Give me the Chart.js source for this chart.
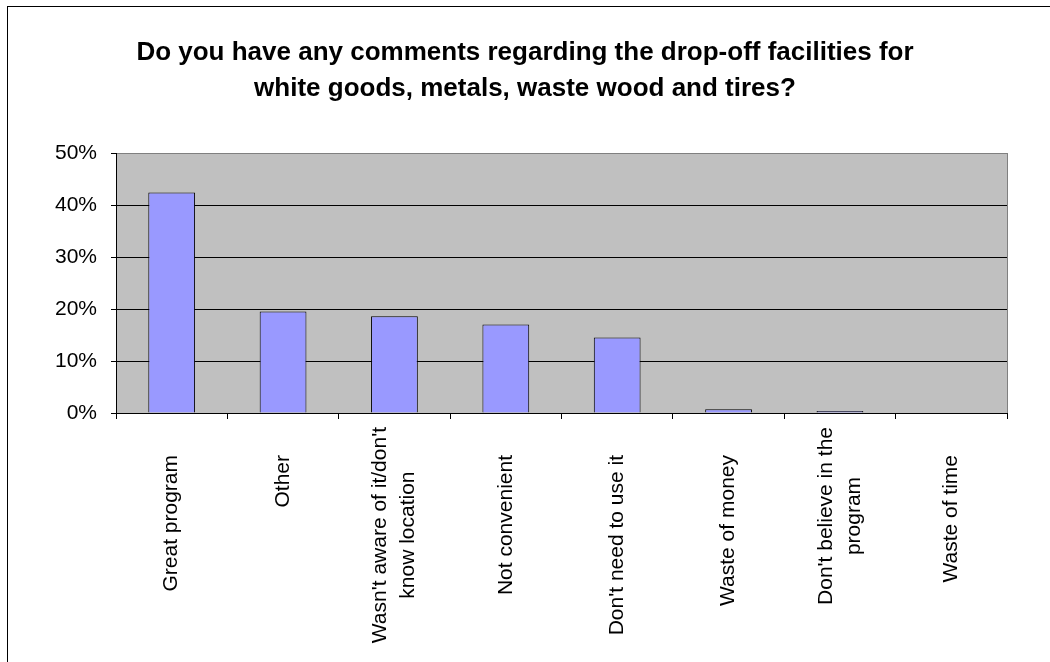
<!DOCTYPE html>
<html>
<head>
<meta charset="utf-8">
<title>Drop-off facilities comments</title>
<script src="https://cdn.jsdelivr.net/npm/chart.js@4.4.1/dist/chart.umd.min.js"></script>
<style>
    body { margin: 0; background: #fff; }
    #wrap { position: relative; width: 1050px; height: 662px; overflow: hidden; }
    #frame { position: absolute; left: 7px; top: 6px; width: 1100px; height: 700px;
             border-left: 1px solid #000; border-top: 1px solid #000; pointer-events: none; }
</style>
</head>
<body>
<div id="wrap">
    <canvas id="commentsChart"></canvas>
    <div id="frame"></div>
</div>
<script>
const categories = [
    'Great program',
    'Other',
    ["Wasn't aware of it/don't", 'know location'],
    'Not convenient',
    "Don't need to use it",
    'Waste of money',
    ["Don't believe in the", 'program'],
    'Waste of time'
];
const percentages = [42.4, 19.5, 18.6, 17.0, 14.5, 0.7, 0.4, 0];
const yTicks = [0, 10, 20, 30, 40, 50];
const titleLines = [
    'Do you have any comments regarding the drop-off facilities for',
    'white goods, metals, waste wood and tires?'
];

const fontFamily = "'Liberation Sans', Arial, sans-serif";

// grey plot area + grey right edge, like the old Excel look
const plotArea = {
    id: 'plotArea',
    beforeDraw(chart) {
        const { ctx, chartArea: a } = chart;
        ctx.save();
        ctx.fillStyle = '#C0C0C0';
        ctx.fillRect(a.left, a.top, a.right - a.left, a.bottom - a.top);
        ctx.restore();
    },
    afterDraw(chart) {
        const { ctx, chartArea: a } = chart;
        ctx.save();
        ctx.strokeStyle = '#808080';
        ctx.lineWidth = 1;
        ctx.beginPath();
        ctx.moveTo(a.right + 0.5, a.top);
        ctx.lineTo(a.right + 0.5, a.bottom);
        ctx.stroke();
        ctx.restore();
    }
};

// wrapped category labels: centre the block on the tick, centre the lines on each other,
// and start them a line higher so the long line fits
const centerWrapped = {
    id: 'centerWrapped',
    beforeDraw(chart) {
        const scale = chart.scales.x;
        const items = scale.getLabelItems(chart.chartArea);
        const ctx = chart.ctx;
        items.forEach(item => {
            if (item._centered || !Array.isArray(item.label)) return;
            ctx.save();
            ctx.font = item.font.string;
            const widest = Math.max(...item.label.map(l => ctx.measureText(l).width));
            ctx.restore();
            const lh = item.font.lineHeight;
            const t = item.options.translation;
            item.options.translation = [t[0] - (item.label.length - 1) * lh / 2, t[1] + widest / 2 - lh];
            item.options.textAlign = 'center';
            item._centered = true;
        });
    }
};

new Chart(document.getElementById('commentsChart'), {
    type: 'bar',
    data: {
        labels: categories,
        datasets: [{
            data: percentages,
            backgroundColor: '#9999FF',
            borderColor: '#000000',
            borderWidth: 1,
            categoryPercentage: 1,
            barPercentage: 0.42
        }]
    },
    options: {
        responsive: true,
        maintainAspectRatio: false,
        animation: false,
        layout: { padding: 0 },
        plugins: {
            legend: { display: false },
            tooltip: { enabled: false },
            title: {
                display: true,
                text: titleLines,
                color: '#000',
                font: { family: fontFamily, size: 26, weight: 'bold', lineHeight: 1.385 },
                padding: { top: 35, bottom: 46 }
            }
        },
        scales: {
            x: {
                grid: {
                    offset: true,
                    drawOnChartArea: false,
                    color: '#000',
                    tickColor: '#000',
                    tickLength: 6
                },
                border: { color: '#000', width: 1 },
                ticks: {
                    autoSkip: false,
                    minRotation: 90,
                    maxRotation: 90,
                    padding: 36,
                    color: '#000',
                    font: { family: fontFamily, size: 21, lineHeight: 1.333 }
                },
                afterFit(scale) { scale.height = 249; }
            },
            y: {
                min: 0,
                max: 50,
                afterBuildTicks(scale) { scale.ticks = yTicks.map(v => ({ value: v })); },
                grid: {
                    color: ctx => (ctx.tick && ctx.tick.value === 50 ? '#808080' : '#000'),
                    tickColor: '#000',
                    tickLength: 5
                },
                border: { color: '#000', width: 1 },
                ticks: {
                    padding: 14,
                    color: '#000',
                    font: { family: fontFamily, size: 21 },
                    callback: v => v + '%'
                },
                afterFit(scale) { scale.width = 116; }
            },
            // empty right-hand margin so the title stays centred on the whole chart
            yRight: {
                position: 'right',
                grid: { display: false },
                border: { display: false },
                ticks: { display: false },
                afterFit(scale) { scale.width = 43; }
            }
        }
    },
    plugins: [plotArea, centerWrapped]
});
</script>
</body>
</html>
